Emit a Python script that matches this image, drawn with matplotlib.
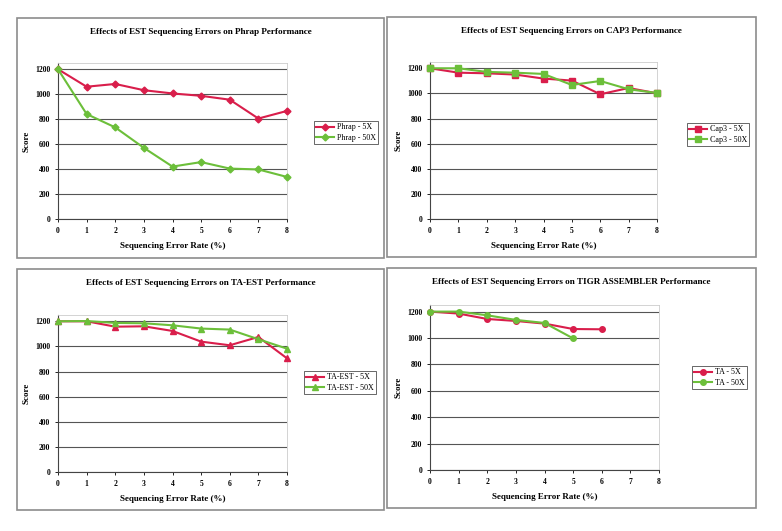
import matplotlib
matplotlib.use("Agg")
import matplotlib.pyplot as plt
from matplotlib.patches import Rectangle

plt.rcParams['font.family'] = ['Liberation Serif', 'DejaVu Serif']

W, H = 782, 531

rate = [0, 1, 2, 3, 4, 5, 6, 7, 8]
rate_tigr = [0, 1, 2, 3, 4, 5, 6]
rate_tigr50 = [0, 1, 2, 3, 4, 5]

phrap_5x = [1200, 1060, 1082, 1032, 1006, 987, 956, 805, 866]
phrap_50x = [1200, 841, 734, 570, 420, 456, 404, 397, 337]
cap3_5x = [1200, 1165, 1160, 1150, 1118, 1102, 993, 1043, 1001]
cap3_50x = [1200, 1200, 1171, 1165, 1155, 1067, 1099, 1033, 1003]
taest_5x = [1200, 1200, 1157, 1160, 1123, 1038, 1009, 1075, 905]
taest_50x = [1200, 1202, 1187, 1184, 1168, 1142, 1134, 1057, 982]
tigr_5x = [1200, 1185, 1144, 1129, 1109, 1068, 1066]
tigr_50x = [1200, 1200, 1172, 1137, 1114, 997]

RED = '#d91e4b'
GREEN = '#6cbf3a'

fig = plt.figure(figsize=(W / 100, H / 100), dpi=100)


def fx(x):
    return x / W


def fy(y):
    return 1 - y / H


def panel(box, ax_px, leg_px, title, xs, series):
    # outer frame of each chart
    x0, y0, x1, y1 = box
    fig.patches.append(Rectangle((fx(x0), fy(y1)), fx(x1 - x0), (y1 - y0) / H,
                                 transform=fig.transFigure, fill=False,
                                 edgecolor='#8c8c8c', linewidth=1.2))
    l, t, r, b = ax_px
    ax = fig.add_axes([fx(l), fy(b), fx(r - l), (b - t) / H])
    for (x, y, lab, mk, col, ms) in series:
        ax.plot(x, y, color=col, marker=mk, markersize=ms, linewidth=1.5,
                label=lab, clip_on=False, zorder=3)
    ax.set_xlim(0, 8)
    ax.set_ylim(0, 1250)
    ax.set_xticks(xs)
    ax.set_yticks(range(0, 1201, 200))
    ax.tick_params(labelsize=5.5, length=2.5, width=0.6, pad=3)
    for lb in ax.get_xticklabels() + ax.get_yticklabels():
        lb.set_fontweight('bold')
    ax.yaxis.grid(True, color='#555555', linewidth=0.8)
    ax.set_axisbelow(True)
    for s in ['top', 'right']:
        ax.spines[s].set_color('#cccccc')
        ax.spines[s].set_linewidth(0.6)
    for s in ['left', 'bottom']:
        ax.spines[s].set_color('#444444')
        ax.spines[s].set_linewidth(0.8)
    ax.set_xlabel('Sequencing Error Rate (%)', fontsize=6.5, fontweight='bold', labelpad=5)
    ax.set_ylabel('Score', fontsize=6.5, fontweight='bold', labelpad=3)
    fig.text(fx((x0 + x1) / 2), fy(box[1] + 14), title, fontsize=6.6,
             fontweight='bold', ha='center', va='center')
    lx, ly = leg_px
    leg = fig.legend(*ax.get_legend_handles_labels(), loc='upper left',
                     bbox_to_anchor=(fx(lx), fy(ly)), fontsize=5.8, frameon=True,
                     fancybox=False, handlelength=2.2, borderpad=0.3,
                     labelspacing=0.3, handletextpad=0.3, borderaxespad=0)
    leg.get_frame().set_edgecolor('#222222')
    leg.get_frame().set_linewidth(0.6)
    return ax


panel((17, 18, 384, 258), (58, 63, 287, 219), (314, 121),
      'Effects of EST Sequencing Errors on Phrap Performance', rate,
      [(rate, phrap_5x, 'Phrap - 5X', 'D', RED, 3.5),
       (rate, phrap_50x, 'Phrap - 50X', 'D', GREEN, 3.5)])

panel((387, 17, 756, 257), (430, 62, 657, 219), (687, 123),
      'Effects of EST Sequencing Errors on CAP3 Performance', rate,
      [(rate, cap3_5x, 'Cap3 - 5X', 's', RED, 4),
       (rate, cap3_50x, 'Cap3 - 50X', 's', GREEN, 4)])

panel((17, 269, 384, 510), (58, 315, 287, 472), (304, 371),
      'Effects of EST Sequencing Errors on TA-EST Performance', rate,
      [(rate, taest_5x, 'TA-EST - 5X', '^', RED, 4.5),
       (rate, taest_50x, 'TA-EST - 50X', '^', GREEN, 4.5)])

panel((387, 268, 756, 508), (430, 305, 659, 470), (692, 366),
      'Effects of EST Sequencing Errors on TIGR ASSEMBLER Performance', rate,
      [(rate_tigr, tigr_5x, 'TA - 5X', 'o', RED, 4),
       (rate_tigr50, tigr_50x, 'TA - 50X', 'o', GREEN, 4)])

fig.savefig('out.png', dpi=100)
